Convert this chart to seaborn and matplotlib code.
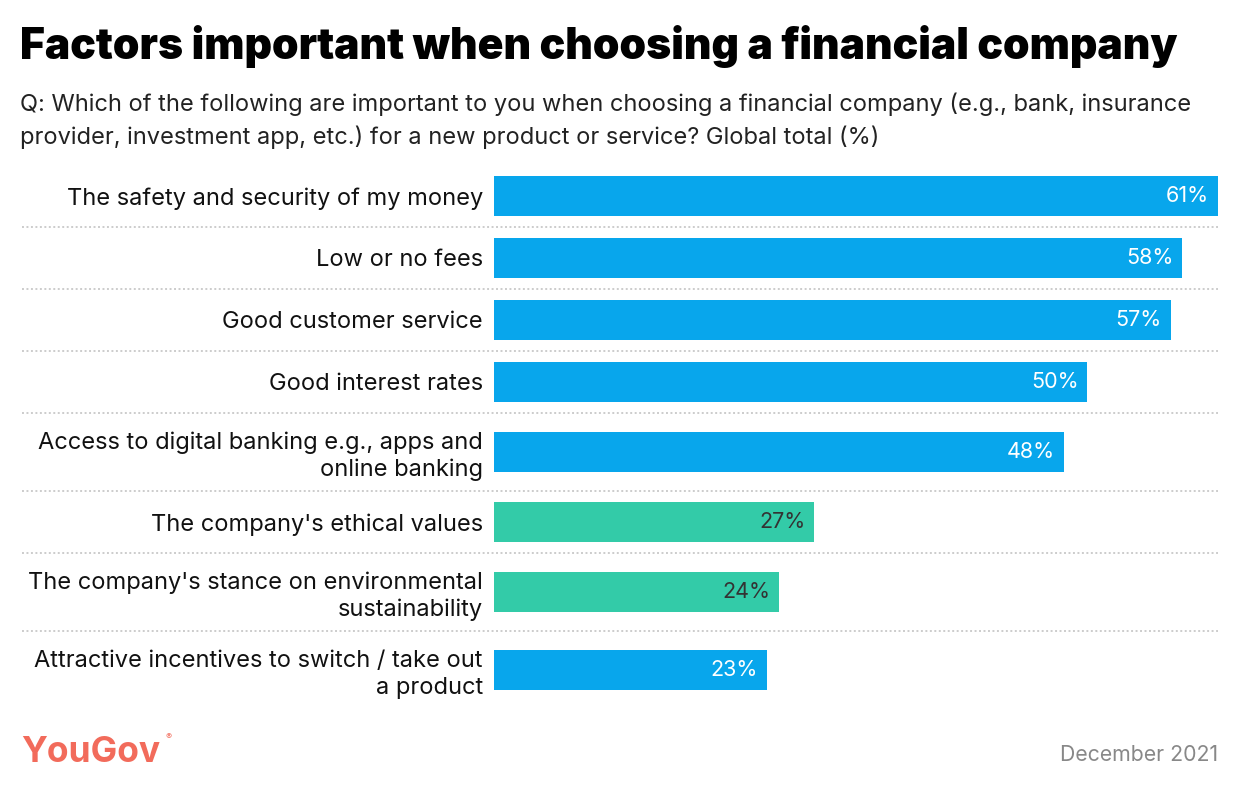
import matplotlib
matplotlib.use("Agg")
import matplotlib.pyplot as plt
import seaborn as sns
import pandas as pd
import numpy as np

categories = [
    "The safety and security of my money",
    "Low or no fees",
    "Good customer service",
    "Good interest rates",
    "Access to digital banking e.g., apps and\nonline banking",
    "The company's ethical values",
    "The company's stance on environmental\nsustainability",
    "Attractive incentives to switch / take out\na product",
]
values = [61, 58, 57, 50, 48, 27, 24, 23]
groups = ["practical", "practical", "practical", "practical", "practical",
          "values", "values", "practical"]
value_labels = [f"{v}%" for v in values]

palette = {"practical": "#08A6EC", "values": "#33CBA8"}
label_colors = {"practical": "white", "values": "#333333"}

sns.set_theme(style="white")
plt.rcParams['font.family'] = ['Inter', 'DejaVu Sans']

W, H = 1240, 794
fig = plt.figure(figsize=(W / 100, H / 100), dpi=100)
ax_left, ax_right, ax_top, ax_bottom = 494, 1218, 165, 709
ax = fig.add_axes([ax_left / W, 1 - ax_bottom / H, (ax_right - ax_left) / W, (ax_bottom - ax_top) / H])

n_lines = [c.count("\n") + 1 for c in categories]
row_h = np.array([1.0 if k == 1 else 78 / 62 for k in n_lines])
tops = np.concatenate([[0], np.cumsum(row_h)[:-1]])
centers = tops + row_h / 2
total = row_h.sum()

df = pd.DataFrame(dict(cat=categories, value=values, group=groups, pos=centers))
sns.barplot(data=df, x="value", y="pos", hue="group", palette=palette,
            orient="y", native_scale=True, dodge=False, width=40 / 62,
            saturation=1, linewidth=0, legend=False, ax=ax)

ax.set_xlim(0, max(values))
ax.set_ylim(total, 0)
ax.set_yticks(centers)
ax.set_yticklabels(categories, fontsize=17, color="#111111", linespacing=1.24)
ax.tick_params(axis="y", length=0, pad=8)
ax.set_xticks([])
ax.set_xlabel("")
ax.set_ylabel("")
for s in ax.spines.values():
    s.set_visible(False)

for v, c, lab, g in zip(values, centers, value_labels, groups):
    ax.text(v - 0.75, c, lab, ha="right", va="center", fontsize=15.5,
            color=label_colors[g])

# dotted separators
ext = (ax_left - 22) / (ax_right - ax_left)
for t in tops[1:]:
    ax.axhline(t, xmin=-ext, xmax=1, color="#cccccc", lw=1.4,
               linestyle=(0, (1, 1.3)), clip_on=False)

fig.text(20 / W, 1 - 46 / H, "Factors important when choosing a financial company",
         fontsize=30.7, fontweight="black", color="#000000", ha="left", va="center")
fig.text(20 / W, 1 - 104 / H,
         "Q: Which of the following are important to you when choosing a financial company (e.g., bank, insurance",
         fontsize=17, color="#222222", ha="left", va="center")
fig.text(20 / W, 1 - 137 / H,
         "provider, investment app, etc.) for a new product or service? Global total (%)",
         fontsize=17, color="#222222", ha="left", va="center")

fig.text(21 / W, 1 - 753 / H, "YouGov", fontsize=25.5, fontweight="bold",
         color="#F26B5B", ha="left", va="center")
fig.text(166 / W, 1 - 737 / H, "®", fontsize=6.5, color="#F26B5B", ha="left", va="center")
fig.text(1218 / W, 1 - 755 / H, "December 2021", fontsize=15.3, color="#888888",
         ha="right", va="center")

fig.savefig("out.png", dpi=100)
